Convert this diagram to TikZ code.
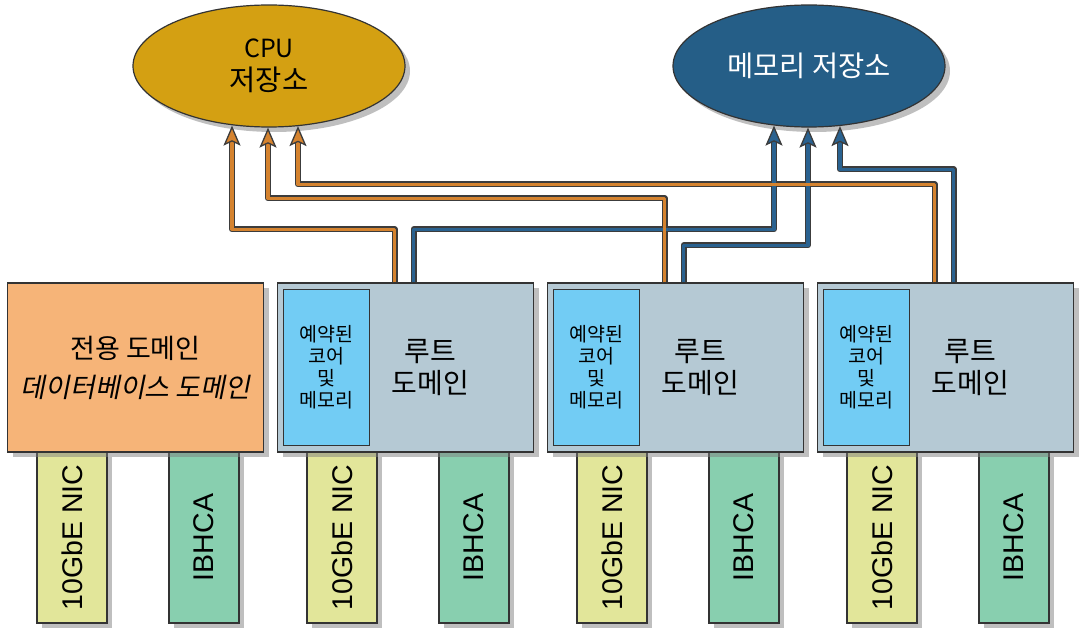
\documentclass[tikz,border=0pt]{standalone}
\usepackage{fontspec}
\usepackage{graphicx}
\setmainfont{Noto Sans CJK KR}
\newfontfamily\slantkr[FakeSlant=0.2]{Noto Sans CJK KR}
\newfontfamily\cardfont{Liberation Sans}
\usetikzlibrary{shapes.geometric,shadows,arrows.meta,positioning}

\definecolor{cpufill}{RGB}{212,160,18}
\definecolor{memfill}{RGB}{37,94,135}
\definecolor{dedfill}{RGB}{246,180,120}
\definecolor{rootfill}{RGB}{181,201,212}
\definecolor{resfill}{RGB}{114,204,244}
\definecolor{nicfill}{RGB}{226,230,154}
\definecolor{hcafill}{RGB}{136,207,175}
\definecolor{cpuwire}{RGB}{213,131,47}
\definecolor{memwire}{RGB}{42,98,144}
\definecolor{wireedge}{RGB}{60,60,60}
\definecolor{boxedge}{RGB}{51,51,51}

\begin{document}
\begin{tikzpicture}[x=1pt,y=-1pt,inner sep=0pt,
  dropshade/.style={drop shadow={shadow xshift=5pt,shadow yshift=-5pt,fill=black!50}},
  pool/.style={ellipse,draw=boxedge,line width=1.2pt,minimum width=272pt,minimum height=122pt,dropshade,align=center,font=\fontsize{28.5}{33}\selectfont},
  dombox/.style={rectangle,draw=boxedge,line width=1.5pt,minimum width=256pt,minimum height=169pt,dropshade},
  resbox/.style={rectangle,draw=boxedge,line width=1.5pt,fill=resfill,minimum width=86pt,minimum height=156pt,align=center,font=\fontsize{19.5}{22}\selectfont},
  card/.style={rectangle,draw=boxedge,line width=1.5pt,minimum width=70pt,minimum height=171pt,dropshade,font=\cardfont\fontsize{28.5}{30}\selectfont},
  edgewire/.style={draw=wireedge,line width=6pt,line join=round,shorten >=10pt},
  corewire/.style={draw=#1,line width=3.2pt,line join=round,-{Stealth[length=20pt,width=17pt,inset=4pt,fill=#1,color=wireedge,line width=1.3pt]}}
]

\useasboundingbox (0,0) rectangle (1080,634);

\node[pool,fill=cpufill] (cpu) at (269,66) {{\fontsize{25}{33}\selectfont CPU}\\저장소};
\node[pool,fill=memfill,text=white] (mem) at (809,66) {메모리 저장소};

\foreach \i/\x in {0/7,1/277,2/547,3/817} {
  \node[card,fill=nicfill] (nic\i) at (\x+65,537.5) {\rotatebox{90}{10GbE NIC}};
  \node[card,fill=hcafill] (hca\i) at (\x+197,537.5) {\rotatebox{90}{IBHCA}};
}

\node[dombox,fill=dedfill,align=center,font=\fontsize{27}{39}\selectfont] (ded) at (135.5,367.5)
  {전용 도메인\\{\slantkr 데이터베이스 도메인}};

\foreach \i/\x in {1/405.5,2/675.5,3/945.5} {
  \node[dombox,fill=rootfill] (root\i) at (\x,367.5) {};
  \node[resbox,anchor=west] (res\i) at ([xshift=6pt]root\i.west) {예약된\\코어\\및\\메모리};
  \node[align=center,font=\fontsize{28}{32}\selectfont] (lab\i) at ([xshift=25pt]root\i.center) {루트\\도메인};
  \coordinate (cpuport\i) at ([xshift=-11pt]root\i.north);
  \coordinate (memport\i) at ([xshift=8pt]root\i.north);
}

\coordinate (cpuA) at ([xshift=-37pt,yshift=2pt]cpu.south);
\coordinate (cpuB) at ([xshift=-1pt]cpu.south);
\coordinate (cpuC) at ([xshift=29pt,yshift=1.5pt]cpu.south);
\coordinate (memA) at ([xshift=-35pt,yshift=2pt]mem.south);
\coordinate (memB) at ([xshift=-1pt]mem.south);
\coordinate (memC) at ([xshift=31pt,yshift=1.5pt]mem.south);

\foreach \s/\h/\t in {memport1/53/memA,memport2/37/memB,memport3/113/memC,cpuport1/53/cpuA,cpuport2/84/cpuB,cpuport3/98/cpuC}
  \draw[edgewire] (\s) -- ++(0,-\h) -| (\t);
\foreach \s/\h/\t in {memport1/53/memA,memport2/37/memB,memport3/113/memC}
  \draw[corewire=memwire] (\s) -- ++(0,-\h) -| (\t);
\foreach \s/\h/\t in {cpuport1/53/cpuA,cpuport2/84/cpuB,cpuport3/98/cpuC}
  \draw[corewire=cpuwire] (\s) -- ++(0,-\h) -| (\t);

\end{tikzpicture}
\end{document}
